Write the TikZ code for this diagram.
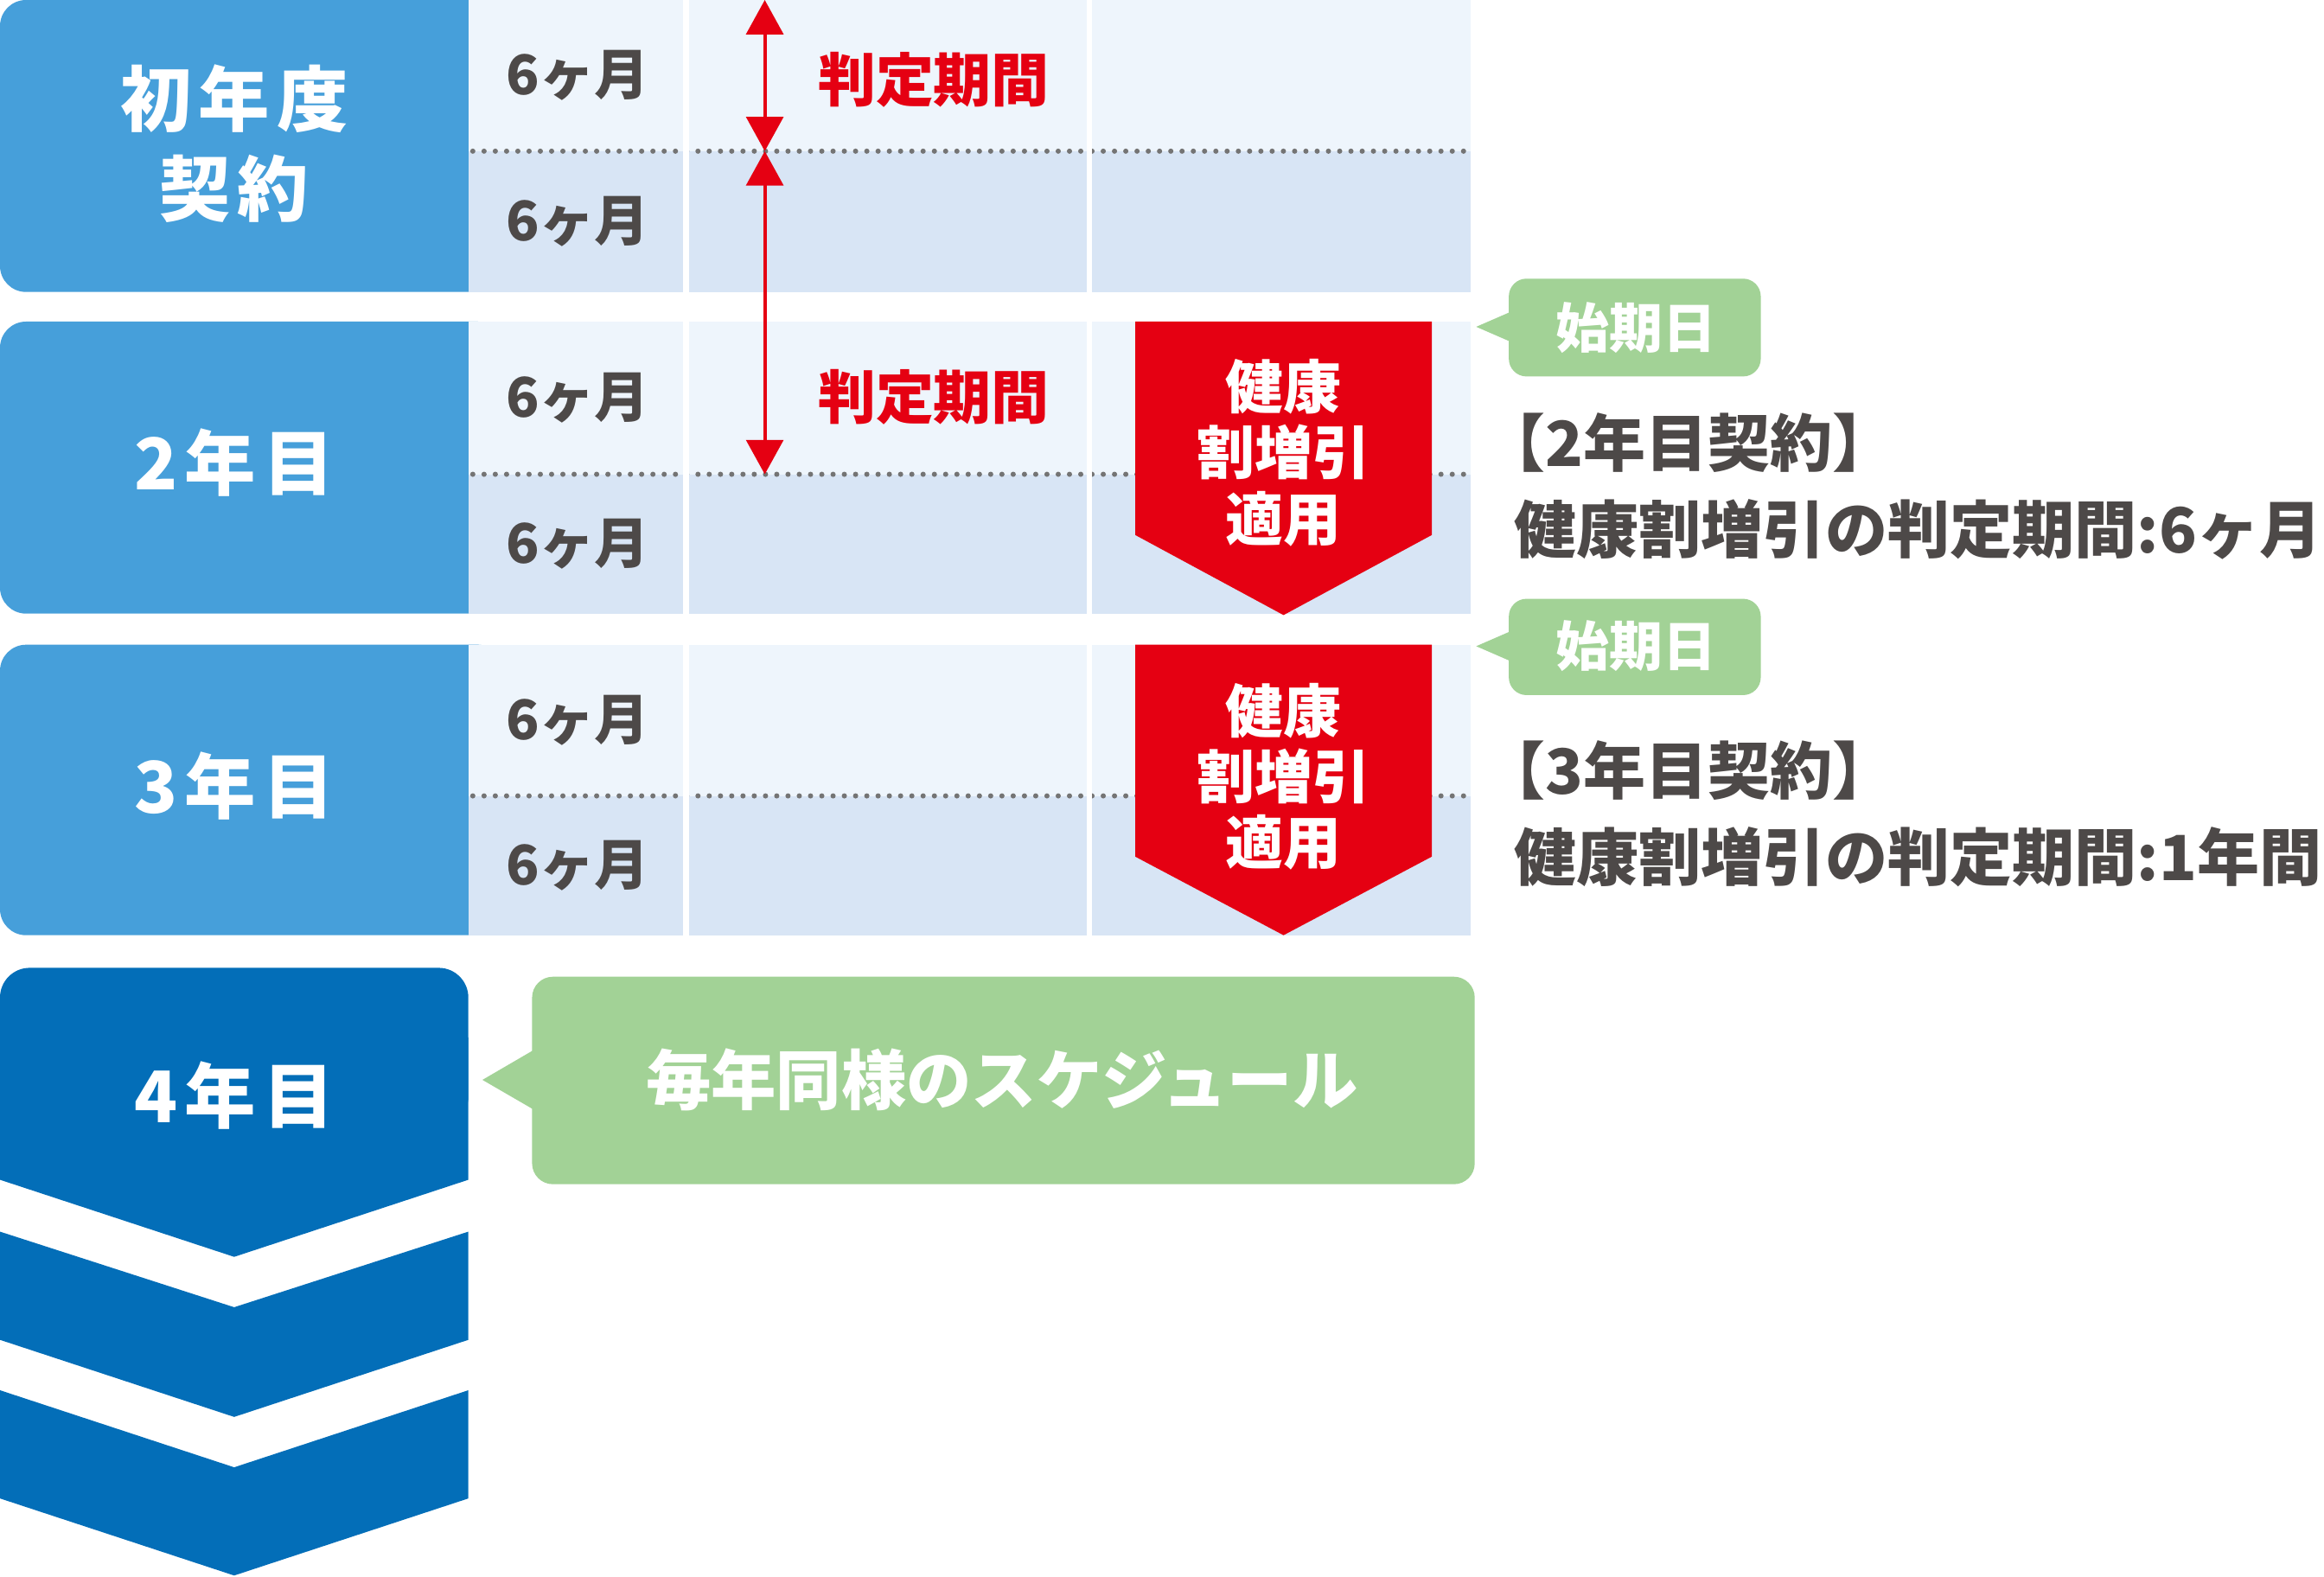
\documentclass[tikz,border=0pt]{standalone}
\usepackage{fontspec}
\setmainfont{Noto Sans CJK JP}
\usetikzlibrary{arrows.meta}
\definecolor{headblue}{HTML}{469FDA}
\definecolor{deepblue}{HTML}{036EB8}
\definecolor{rowlight}{HTML}{EEF5FC}
\definecolor{rowdark}{HTML}{D8E5F5}
\definecolor{applyred}{HTML}{E50012}
\definecolor{notegreen}{HTML}{A2D296}
\definecolor{txtgrey}{HTML}{4D4948}
\definecolor{dotgrey}{HTML}{747474}

\begin{document}
\begin{tikzpicture}[x=0.01cm,y=-0.01cm,
  headtxt/.style={text=white,inner sep=0,align=center,font=\fontsize{13.66pt}{17.35pt}\selectfont\bfseries},
  monthtxt/.style={text=txtgrey,inner sep=0,font=\fontsize{10.5pt}{12pt}\selectfont\bfseries},
  judgetxt/.style={text=applyred,inner sep=0,font=\fontsize{11.1pt}{13pt}\selectfont\bfseries},
  applytxt/.style={text=white,inner sep=0,align=center,font=\fontsize{11.1pt}{12.66pt}\selectfont\bfseries},
  starttxt/.style={text=white,inner sep=0,font=\fontsize{10.25pt}{12pt}\selectfont\bfseries},
  notetxt/.style={text=txtgrey,inner sep=0,anchor=west,font=\fontsize{11.95pt}{14pt}\selectfont\bfseries},
  sametxt/.style={text=white,inner sep=0,font=\fontsize{12.5pt}{14pt}\selectfont\bfseries},
  dotline/.style={dotgrey,line width=1pt,line cap=round,dash pattern=on 0pt off 2.16pt},
  colgap/.style={white,line width=1.14pt},
  judgearrow/.style={applyred,line width=0.65pt,{Triangle[width=7.1pt,length=6.6pt]}-{Triangle[width=7.1pt,length=6.6pt]}}
]
\useasboundingbox (0,0) rectangle (1568,1064);

\fill[headblue,rounded corners=5pt] (0,0) rectangle (340,197);
\fill[headblue,rounded corners=5pt] (0,217) rectangle (340,414);
\fill[headblue,rounded corners=5pt] (0,435) rectangle (340,631);

\fill[rowlight] (316,0) rectangle (992,102);
\fill[rowdark] (316,102) rectangle (992,197);
\fill[rowlight] (316,217) rectangle (992,320);
\fill[rowdark] (316,320) rectangle (992,414);
\fill[rowlight] (316,435) rectangle (992,537);
\fill[rowdark] (316,537) rectangle (992,631);

\draw[dotline] (319,102) -- (992,102);
\draw[dotline] (319,320) -- (992,320);
\draw[dotline] (319,537) -- (992,537);

\draw[colgap] (463,0) -- (463,197);
\draw[colgap] (735,0) -- (735,197);
\draw[colgap] (463,217) -- (463,414);
\draw[colgap] (735,217) -- (735,414);
\draw[colgap] (463,435) -- (463,631);
\draw[colgap] (735,435) -- (735,631);

\fill[applyred] (766,217) -- (966,217) -- (966,361) -- (866,415) -- (766,361) -- cycle;
\fill[applyred] (766,435) -- (966,435) -- (966,578) -- (866,631) -- (766,578) -- cycle;

\fill[deepblue,rounded corners=5.7pt] (0,653) rectangle (316,760);
\fill[deepblue] (0,700) -- (316,700) -- (316,796) -- (158,848) -- (0,796) -- cycle;
\fill[deepblue] (0,831) -- (158,882) -- (316,831) -- (316,904) -- (158,956) -- (0,904) -- cycle;
\fill[deepblue] (0,938) -- (158,990) -- (316,938) -- (316,1011) -- (158,1063) -- (0,1011) -- cycle;

\fill[notegreen,rounded corners=3.4pt] (1018,188) rectangle (1188,254);
\fill[notegreen] (996,220.5) -- (1019,210.5) -- (1019,230.5) -- cycle;
\fill[notegreen,rounded corners=3.4pt] (1018,404) rectangle (1188,469);
\fill[notegreen] (996,436) -- (1019,426) -- (1019,446) -- cycle;
\fill[notegreen,rounded corners=4pt] (359,659) rectangle (995,799);
\fill[notegreen] (325.5,728.6) -- (360,708.5) -- (360,748.6) -- cycle;

\node[headtxt] (year1) at (158,97) {初\kern.1em年\kern.1em度\\契\kern.1em約};
\node[headtxt] (year2) at (158,312) {2\kern.1em年\kern.1em目};
\node[headtxt] (year3) at (158,530) {3\kern.1em年\kern.1em目};
\node[headtxt] (year4) at (158,739) {4\kern.1em年\kern.1em目};

\node[monthtxt] (m1a) at (390,51) {6ヶ月};
\node[monthtxt] (m1b) at (390,149.5) {6ヶ月};
\node[monthtxt] (m2a) at (390,268.5) {6ヶ月};
\node[monthtxt] (m2b) at (390,367) {6ヶ月};
\node[monthtxt] (m3a) at (390,486) {6ヶ月};
\node[monthtxt] (m3b) at (390,584) {6ヶ月};

\coordinate (jtop) at (516,0);
\coordinate (jmid) at (516,102);
\coordinate (jend) at (516,320);
\draw[judgearrow] (jtop) -- (jmid);
\draw[judgearrow] (jmid) -- (jend);
\node[judgetxt] (judge1) at (630,54) {判定期間};
\node[judgetxt] (judge2) at (630,268) {判定期間};

\node[applytxt] (apply2) at (866,305.5) {健康\\割増引\\適用};
\node[applytxt] (apply3) at (866,524) {健康\\割増引\\適用};

\node[starttxt] (start2) at (1104,221) {始期日};
\node[starttxt] (start3) at (1104,436) {始期日};

\node[notetxt] (note2a) at (1021,299) {\kern-.5em【2年目契約】};
\node[notetxt] (note2b) at (1021,357) {健康割増引の判定期間:6ヶ月};
\node[notetxt] (note3a) at (1021,520) {\kern-.5em【3年目契約】};
\node[notetxt] (note3b) at (1021,578) {健康割増引の判定期間:1年間};

\node[sametxt] (same4) at (676,728.5) {毎年同様のスケジュール};
\end{tikzpicture}
\end{document}
